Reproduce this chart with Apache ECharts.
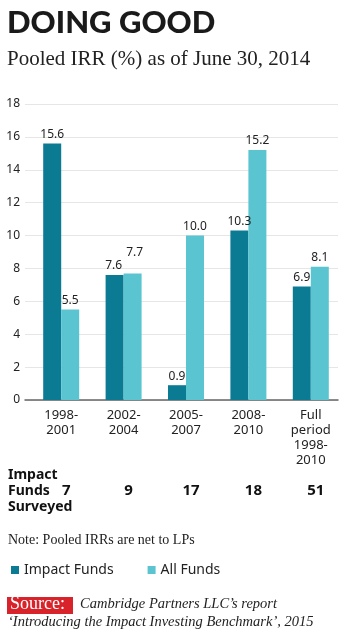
<!DOCTYPE html>
<html>
<head>
<meta charset="utf-8">
<script src="https://cdn.jsdelivr.net/npm/echarts@6/dist/echarts.min.js"></script>
<style>
html,body{margin:0;padding:0;background:#fff;}
#c{width:350px;height:639px;}
</style>
</head>
<body>
<div id="c"></div>
<script>
var categories = ['1998-\n2001', '2002-\n2004', '2005-\n2007', '2008-\n2010', 'Full\nperiod\n1998-\n2010'];
var impactFunds = [15.6, 7.6, 0.9, 10.3, 6.9];
var allFunds = [5.5, 7.7, 10.0, 15.2, 8.1];
var fundsSurveyed = [7, 9, 17, 18, 51];
var yTicks = [0, 2, 4, 6, 8, 10, 12, 14, 16, 18];

var DARK = '#0a7b93';
var LIGHT = '#5ac4d1';
var sans = '"Noto Sans", sans-serif';
var serif = '"Liberation Serif", "DejaVu Serif", serif';

function withLabelOffsets(values, offsets) {
  return values.map(function (v, i) {
    var o = offsets[i];
    return o ? {value: v, label: {offset: o}} : v;
  });
}

var chart = echarts.init(document.getElementById('c'), null, {renderer: 'canvas'});
var labelStyle = {show: true, position: 'top', distance: 3, fontFamily: sans, fontSize: 12, color: '#222',
  formatter: function (p) { return Number(p.value).toFixed(1); }};
var option = {
  animation: false,
  backgroundColor: '#fff',
  grid: [
    {left: 25, right: 12, top: 104, height: 296, containLabel: false},
    {left: 30, right: 8, top: 104, height: 296, containLabel: false}
  ],
  xAxis: [
    {gridIndex: 0, type: 'category', data: [''], axisLine: {show: true, lineStyle: {color: '#666', width: 1.5}},
     axisTick: {show: false}, axisLabel: {show: false}, splitLine: {show: false}},
    {gridIndex: 1, type: 'category', data: categories, axisLine: {show: false}, axisTick: {show: false},
     axisLabel: {margin: 8, fontFamily: sans, fontSize: 13, lineHeight: 15, color: '#222', interval: 0}},
    {gridIndex: 1, type: 'category', data: categories, position: 'bottom', offset: 83,
     axisLine: {show: false}, axisTick: {show: false},
     axisLabel: {margin: 0, interval: 0, fontFamily: sans, fontSize: 15, fontWeight: 'bold', color: '#111',
       padding: [0, 0, 0, 10],
       formatter: function (v, i) { return String(fundsSurveyed[i]); }}}
  ],
  yAxis: [
    {gridIndex: 0, type: 'value', min: yTicks[0], max: yTicks[yTicks.length - 1], interval: 2,
     axisLine: {show: false}, axisTick: {show: false},
     axisLabel: {margin: 5, fontFamily: sans, fontSize: 12, color: '#222'},
     splitLine: {show: true, lineStyle: {color: '#e6e6e6', width: 1}}},
    {gridIndex: 1, type: 'value', min: 0, max: 18, interval: 2, show: false, splitLine: {show: false}}
  ],
  series: [
    {name: 'Impact Funds', type: 'bar', xAxisIndex: 1, yAxisIndex: 1, data: withLabelOffsets(impactFunds, [null, [-1, 0]]),
     barWidth: 18, barGap: '0%', itemStyle: {color: DARK}, label: labelStyle},
    {name: 'All Funds', type: 'bar', xAxisIndex: 1, yAxisIndex: 1, data: withLabelOffsets(allFunds, [null, [2, -12]]),
     barWidth: 18, barGap: '0%', itemStyle: {color: LIGHT}, label: labelStyle}
  ],
  legend: {
    left: 6, top: 558, itemWidth: 8, itemHeight: 8, itemGap: 34, icon: 'rect',
    textStyle: {fontFamily: sans, fontSize: 14, color: '#222'},
    data: ['Impact Funds', 'All Funds']
  },
  graphic: [
    {type: 'text', left: 7, top: 7, style: {text: 'DOING GOOD', font: '900 31px Lato, sans-serif', fill: '#1a1a1a'}},
    {type: 'text', left: 7, top: 49, style: {text: 'Pooled IRR (%) as of June 30, 2014', font: '21px ' + serif, fill: '#222'}},
    {type: 'text', left: 8, top: 467, style: {text: 'Impact\nFunds\nSurveyed', font: 'bold 14px ' + sans, lineHeight: 16, fill: '#111'}},
    {type: 'text', left: 8, top: 533, style: {text: 'Note: Pooled IRRs are net to LPs', font: '14px ' + serif, fill: '#222'}},
    {type: 'rect', left: 7, top: 597, shape: {width: 66, height: 17}, style: {fill: '#d9232a'}},
    {type: 'text', left: 10, top: 595, style: {text: 'Source:', font: '18px ' + serif, fill: '#fff'}},
    {type: 'text', left: 80, top: 597, style: {text: 'Cambridge Partners LLC\u2019s report', font: 'italic 14.5px ' + serif, fill: '#222'}},
    {type: 'text', left: 8, top: 615, style: {text: '\u2018Introducing the Impact Investing Benchmark\u2019, 2015', font: 'italic 14.5px ' + serif, fill: '#222'}}
  ]
};
chart.setOption(option);
</script>
</body>
</html>
